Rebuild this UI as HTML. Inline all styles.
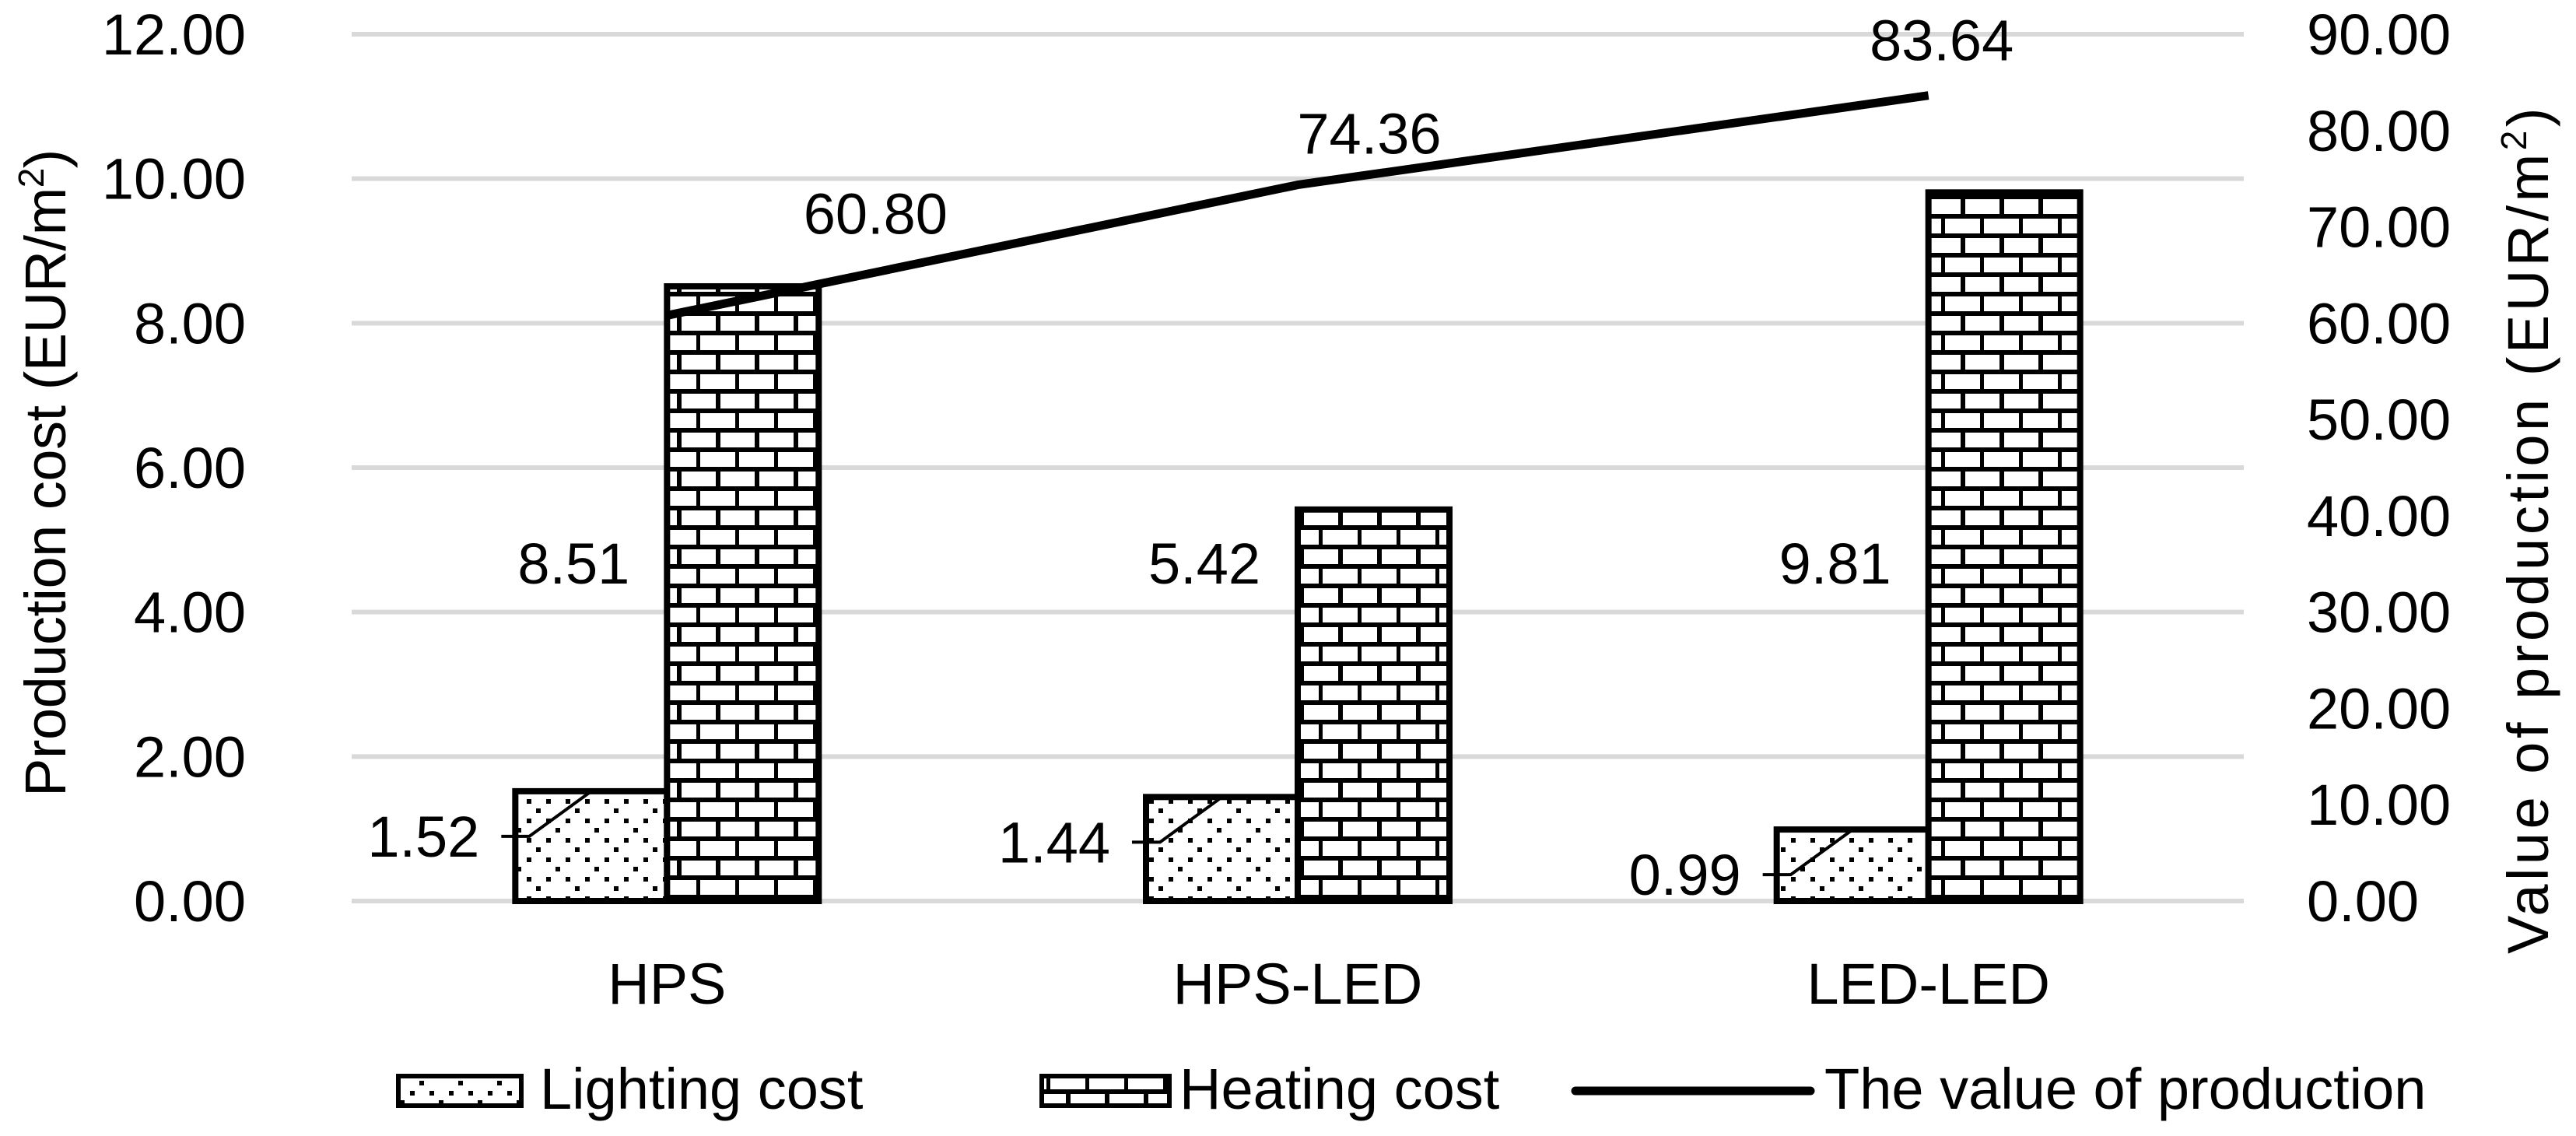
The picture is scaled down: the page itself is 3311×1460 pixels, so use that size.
<!DOCTYPE html>
<html><head><meta charset="utf-8"><style>
html,body{margin:0;padding:0;background:#fff;}
svg text{font-family:"Liberation Sans",sans-serif;fill:#000;}
</style></head><body>
<svg id="chart" width="3311" height="1455" viewBox="0 0 3311 1455" xmlns="http://www.w3.org/2000/svg">
<defs>
<pattern id="dots" patternUnits="userSpaceOnUse" width="50" height="50" x="0" y="0">
<rect width="50" height="50" fill="#fff"/>
<rect x="2" y="2" width="6" height="6" fill="#000"/>
<rect x="27" y="2" width="6" height="6" fill="#000"/>
<rect x="14" y="14" width="6" height="6" fill="#000"/>
<rect x="2" y="27" width="6" height="6" fill="#000"/>
<rect x="27" y="27" width="6" height="6" fill="#000"/>
<rect x="39" y="39" width="6" height="6" fill="#000"/>
</pattern>
<pattern id="brick" patternUnits="userSpaceOnUse" width="50" height="50" x="0" y="0">
<rect width="50" height="50" fill="#fff"/>
<rect x="0" y="0" width="50" height="6" fill="#000"/>
<rect x="0" y="25" width="50" height="6" fill="#000"/>
<rect x="20" y="0" width="6" height="25" fill="#000"/>
<rect x="45" y="25" width="6" height="25" fill="#000"/>
</pattern>
</defs>
<g id="grid"></g>
<g id="bars"></g>
<g id="line"></g>
<g id="labels"></g>
<text transform="translate(84,608) rotate(-90)" font-size="74" text-anchor="middle" letter-spacing="-0.5">Production cost (EUR/m<tspan font-size="46" dy="-28">2</tspan><tspan dy="28">)</tspan></text>
<text transform="translate(3275,680) rotate(-90)" font-size="74" text-anchor="middle" letter-spacing="4.5">Value of production (EUR/m<tspan font-size="46" dy="-28">2</tspan><tspan dy="28">)</tspan></text>
<g>
<rect x="512" y="1383" width="158" height="38" fill="url(#dots)" stroke="#000" stroke-width="6"/>
<text x="694" y="1425" font-size="74">Lighting cost</text>
<rect x="1339" y="1383" width="164" height="38" fill="url(#brick)" stroke="#000" stroke-width="6"/>
<text x="1516" y="1425" font-size="74">Heating cost</text>
<line x1="2025" y1="1402" x2="2327" y2="1402" stroke="#000" stroke-width="11" stroke-linecap="round"/>
<text x="2345" y="1425" font-size="74">The value of production</text>
</g>
</svg>
<script>
const categories = ["HPS", "HPS-LED", "LED-LED"];
const lightingCost = [1.52, 1.44, 0.99];
const heatingCost = [8.51, 5.42, 9.81];
const productionValue = [60.80, 74.36, 83.64];
const leftTicks = ["0.00","2.00","4.00","6.00","8.00","10.00","12.00"];
const rightTicks = ["0.00","10.00","20.00","30.00","40.00","50.00","60.00","70.00","80.00","90.00"];

const NS = "http://www.w3.org/2000/svg";
const X0 = 452, X1 = 2884, Y0 = 1158, Y1 = 44;
const LMAX = 12, RMAX = 90;
const yL = v => Y0 - (v / LMAX) * (Y0 - Y1);
const yR = v => Y0 - (v / RMAX) * (Y0 - Y1);
const band = (X1 - X0) / categories.length;
const xC = i => X0 + band * (i + 0.5);
const BW = 195;
function mk(tag, attrs, parent, txt) {
  const e = document.createElementNS(NS, tag);
  for (const k in attrs) e.setAttribute(k, attrs[k]);
  if (txt !== undefined) e.textContent = txt;
  parent.appendChild(e);
  return e;
}
const grid = document.getElementById('grid');
const bars = document.getElementById('bars');
const lineG = document.getElementById('line');
const labels = document.getElementById('labels');

leftTicks.forEach(t => {
  const v = parseFloat(t);
  const g = mk('line', {x1: X0, x2: X1, y1: yL(v), y2: yL(v), stroke: '#d9d9d9', 'stroke-width': 6}, grid);
  
  
  const tx = mk('text', {x: 316, y: yL(v) + 26, 'font-size': 74, 'text-anchor': 'end'}, labels, t);
  
  
});
rightTicks.forEach(t => {
  const v = parseFloat(t);
  const tx = mk('text', {x: 2965, y: yR(v) + 26, 'font-size': 74, 'text-anchor': 'start'}, labels, t);
  
  
});

categories.forEach((c, i) => {
  const cx = xC(i);
  const ly = yL(lightingCost[i]);
  const lb = mk('rect', {x: cx - BW, y: ly, width: BW, height: Y0 - ly, fill: 'url(#dots)', stroke: '#000', 'stroke-width': 8}, bars);
  
  
  const hy = yL(heatingCost[i]);
  const hb = mk('rect', {x: cx, y: hy, width: BW, height: Y0 - hy, fill: 'url(#brick)', stroke: '#000', 'stroke-width': 8}, bars);
  
  

  const cl = mk('text', {x: cx, y: 1290, 'font-size': 74, 'text-anchor': 'middle'}, labels, c);
  
  

  const hl = mk('text', {x: cx - 120, y: 750, 'font-size': 74, 'text-anchor': 'middle'}, labels, heatingCost[i].toFixed(2));
  
  

  const lyMid = ly + 58;
  const ll = mk('text', {x: cx - 313, y: lyMid + 26, 'font-size': 74, 'text-anchor': 'middle'}, labels, lightingCost[i].toFixed(2));
  
  
  const ld = mk('polyline', {points: `${cx-213},${lyMid} ${cx-177},${lyMid} ${cx-100},${ly+2}`, fill: 'none', stroke: '#000', 'stroke-width': 4}, labels);
  
  
});

const pts = productionValue.map((v, i) => `${xC(i)},${yR(v)}`).join(' ');
const pl = mk('polyline', {points: pts, fill: 'none', stroke: '#000', 'stroke-width': 11, 'stroke-linejoin': 'round'}, lineG);


const vOff = [[268, -105], [92, -40], [17, -45]];
productionValue.forEach((v, i) => {
  const t = mk('text', {x: xC(i) + vOff[i][0], y: yR(v) + vOff[i][1], 'font-size': 74, 'text-anchor': 'middle'}, labels, v.toFixed(2));
  
  
});
</script>
</body></html>
